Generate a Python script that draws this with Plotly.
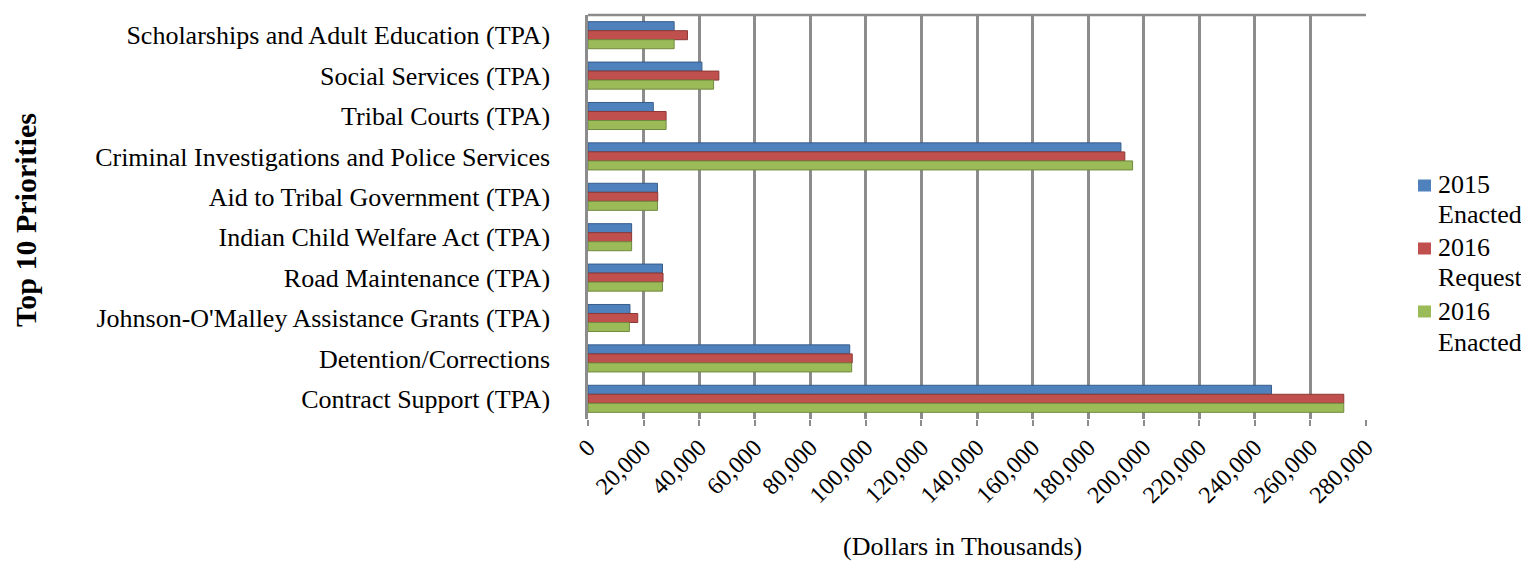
import plotly.graph_objects as go

categories = [
    "Scholarships and Adult Education (TPA)",
    "Social Services (TPA)",
    "Tribal Courts (TPA)",
    "Criminal Investigations and Police Services",
    "Aid to Tribal Government (TPA)",
    "Indian Child Welfare Act (TPA)",
    "Road Maintenance (TPA)",
    "Johnson-O'Malley Assistance Grants (TPA)",
    "Detention/Corrections",
    "Contract Support (TPA)",
]
enacted_2015 = [31000, 41000, 23500, 191800, 25000, 15700, 26800, 15100, 94200, 246000]
request_2016 = [35800, 47100, 28100, 193200, 25100, 15700, 27000, 17900, 95100, 272000]
enacted_2016 = [31000, 45200, 28100, 196000, 25000, 15700, 26800, 14900, 94900, 272000]
series_names = ["2015 Enacted", "2016 Request", "2016 Enacted"]
legend_lines = [["2015", "Enacted"], ["2016", "Request"], ["2016", "Enacted"]]
colors = ["#4F81BD", "#C0504D", "#9BBB59"]
edges = ["#385D8A", "#8C3836", "#71893F"]
tick_vals = list(range(0, 280001, 20000))

font_family = "Liberation Serif, Times New Roman, serif"
GRID = "#8C8C8C"

# screen geometry (page body has an 8px margin)
FIG_W, FIG_H = 1521, 556
L, R, T, B = 580, 163, 7, 145
PX0, PY0 = L + 8, T + 8
PW = FIG_W - L - R
PH = FIG_H - T - B


def px(x):
    return (x - PX0) / PW


def py(y):
    return (PY0 + PH - y) / PH


fig = go.Figure()
for name, vals, c, e in zip(series_names, [enacted_2015, request_2016, enacted_2016], colors, edges):
    fig.add_trace(go.Bar(
        y=categories, x=vals, name=name, orientation="h",
        marker=dict(color=c, line=dict(color=e, width=1)),
        showlegend=False,
    ))

shapes = [
    dict(type="line", xref="paper", yref="paper", x0=0, x1=1, y0=1, y1=1,
         line=dict(color=GRID, width=2.5)),
]
annotations = [
    dict(text="<b>Top 10 Priorities</b>", x=px(25), y=py(220), xref="paper", yref="paper",
         showarrow=False, textangle=-90, xanchor="center", yanchor="middle",
         font=dict(size=30, family=font_family)),
    dict(text="(Dollars in Thousands)", x=px(962), y=py(546), xref="paper", yref="paper",
         xanchor="center", yanchor="middle", showarrow=False,
         font=dict(size=26, family=font_family)),
]

# manual legend (two-line entries with tight spacing)
sq_centers = [185.5, 248.5, 311.5]
line_centers = [(184, 214), (247.5, 277), (311, 342)]
for c, yc, lines, lc in zip(colors, sq_centers, legend_lines, line_centers):
    shapes.append(dict(type="rect", xref="paper", yref="paper",
                       x0=px(1418), x1=px(1431), y0=py(yc + 6), y1=py(yc - 6),
                       fillcolor=c, line=dict(width=0)))
    for txt, yy in zip(lines, lc):
        annotations.append(dict(text=txt, x=px(1436), y=py(yy), xref="paper", yref="paper",
                                xanchor="left", yanchor="middle", showarrow=False,
                                font=dict(size=26, family=font_family)))

fig.update_layout(
    width=FIG_W, height=FIG_H,
    margin=dict(l=L, r=R, t=T, b=B),
    paper_bgcolor="white", plot_bgcolor="white",
    barmode="group", bargap=0.33, bargroupgap=0.0,
    font=dict(family=font_family, color="black", size=26),
    showlegend=False,
    xaxis=dict(
        range=[0, 280000], tickvals=tick_vals, tickformat=",d",
        tickangle=-45, showgrid=True, gridcolor=GRID, gridwidth=2.5,
        zeroline=False, showline=False,
        ticks="outside", ticklen=6, tickwidth=2, tickcolor=GRID,
        ticklabelstandoff=-2,
        tickfont=dict(size=24, family=font_family),
    ),
    yaxis=dict(
        autorange="reversed", showgrid=False, zeroline=False,
        showline=True, linecolor=GRID, linewidth=2.5,
        ticks="", ticklabelstandoff=30,
        tickfont=dict(size=26, family=font_family),
    ),
    shapes=shapes,
    annotations=annotations,
)

fig.write_html("out.html")
